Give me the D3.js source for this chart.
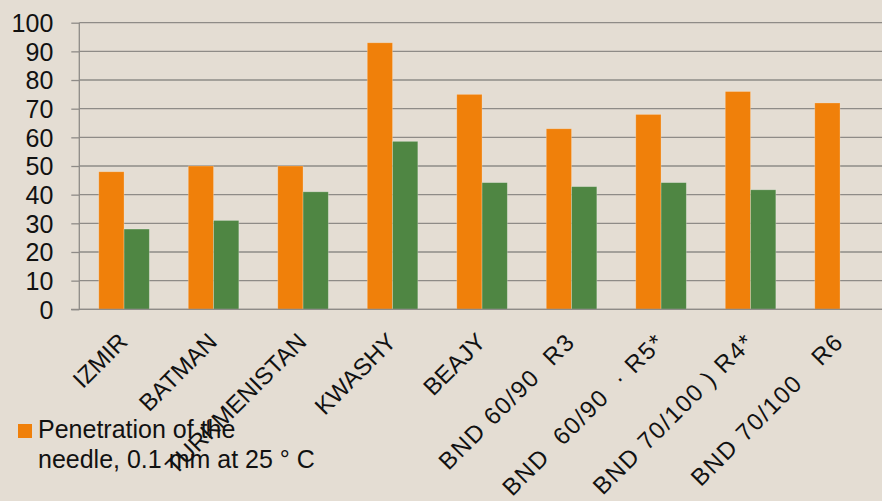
<!DOCTYPE html>
<html>
<head>
<meta charset="utf-8">
<script src="https://cdn.jsdelivr.net/npm/d3@7/dist/d3.min.js"></script>
<style>
  html, body { margin: 0; padding: 0; background: #e4ddd3; }
  svg { display: block; }
  text { font-family: "Liberation Sans", Arial, sans-serif; fill: #111; }
</style>
</head>
<body>
<svg id="chart" width="882" height="501"></svg>
<script>
// Bitumen samples and their measured values
const categories = ["IZMIR", "BATMAN", "TURKMENISTAN", "KWASHY", "BEAJY",
  "BND 60/90  R3", "BND  60/90  · R5*", "BND 70/100 ) R4*", "BND 70/100   R6"];
const penetration = [48, 50, 50, 93, 75, 63, 68, 76, 72];
const secondSeries = [28, 31, 41, 58.6, 44.2, 42.8, 44.2, 41.7, null];
const yTicks = [0, 10, 20, 30, 40, 50, 60, 70, 80, 90, 100];
const legendLines = ["Penetration of the", "needle, 0.1 mm at 25 ° C"];

const colors = { orange: "#f0800a", green: "#4f8643", grid: "#8e8b87" };

const svg = d3.select("#chart");
const plot = { left: 79.3, right: 884.8, top: 22.7, bottom: 309.3 };

const x = d3.scaleBand()
  .domain(categories)
  .range([plot.left, plot.right])
  .paddingInner(0.435)
  .paddingOuter(0.2175);

const sub = d3.scaleBand()
  .domain(["penetration", "second"])
  .range([0, x.bandwidth()]);

const y = d3.scaleLinear().domain([0, 100]).range([plot.bottom, plot.top]);

// Horizontal gridlines
svg.append("g")
  .attr("class", "grid")
  .selectAll("line")
  .data(yTicks)
  .join("line")
  .attr("x1", plot.left)
  .attr("x2", 882)
  .attr("y1", d => y(d))
  .attr("y2", d => y(d))
  .attr("stroke", colors.grid)
  .attr("stroke-width", 1.3);

// Value axis with short outward ticks
const yAxis = d3.axisLeft(y)
  .tickValues(yTicks)
  .tickSize(8)
  .tickFormat(d3.format("d"));

const ya = svg.append("g")
  .attr("transform", `translate(${plot.left},0)`)
  .call(yAxis);
ya.select(".domain").attr("stroke", colors.grid).attr("stroke-width", 1.3)
  .attr("d", `M0,${plot.top}V${plot.bottom}`);
ya.selectAll(".tick line").attr("stroke", colors.grid).attr("stroke-width", 1.3);
ya.selectAll(".tick text")
  .attr("x", -26)
  .attr("dy", "0.35em")
  .style("font-size", "25px")
  .style("font-family", "'Liberation Sans', Arial, sans-serif")
  .attr("fill", "#111");

// Bars
const rows = categories.map((c, i) => ({ c, penetration: penetration[i], second: secondSeries[i] }));
const groups = svg.append("g").selectAll("g")
  .data(rows)
  .join("g")
  .attr("transform", d => `translate(${x(d.c)},0)`);

groups.selectAll("rect")
  .data(d => [
    { key: "penetration", v: d.penetration, color: colors.orange },
    { key: "second", v: d.second, color: colors.green }
  ].filter(e => e.v != null))
  .join("rect")
  .attr("x", e => sub(e.key))
  .attr("width", sub.bandwidth())
  .attr("y", e => y(e.v))
  .attr("height", e => y(0) - y(e.v))
  .attr("fill", e => e.color)
  .attr("stroke", "rgba(255,255,255,0.3)")
  .attr("stroke-width", 0.8);

// Rotated category labels
const xa = svg.append("g")
  .attr("transform", `translate(0,${plot.bottom})`)
  .call(d3.axisBottom(x).tickSize(0).tickPadding(0));
xa.select(".domain").remove();
xa.selectAll(".tick text")
  .attr("text-anchor", "end")
  .attr("transform", "translate(5,34) rotate(-45)")
  .attr("dy", 0)
  .attr("y", 0)
  .style("white-space", "pre")
  .style("letter-spacing", d => /\d/.test(d) ? "1.5px" : null)
  .style("font-size", "24px")
  .style("font-family", "'Liberation Sans', Arial, sans-serif")
  .attr("fill", "#111");

// Baseline drawn above the bars
svg.append("line")
  .attr("x1", 71).attr("x2", 882)
  .attr("y1", y(0)).attr("y2", y(0))
  .attr("stroke", colors.grid).attr("stroke-width", 1.3);

// Legend
const legend = svg.append("g");
legend.append("rect")
  .attr("x", 18).attr("y", 424).attr("width", 14).attr("height", 14)
  .attr("fill", colors.orange);
legend.selectAll("text")
  .data(legendLines)
  .join("text")
  .attr("x", 38)
  .attr("y", (d, i) => 438 + i * 30)
  .style("font-size", "25px")
  .text(d => d);
</script>
</body>
</html>
